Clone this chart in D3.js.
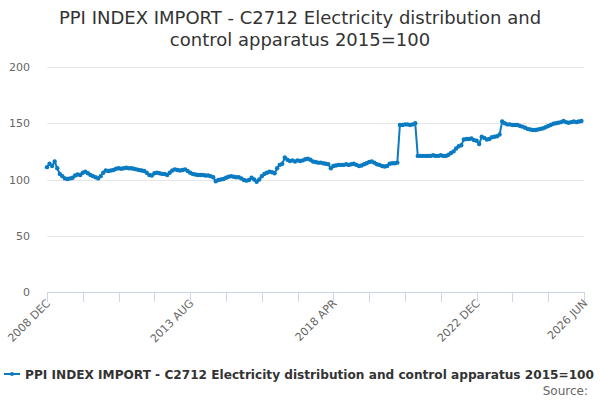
<!DOCTYPE html>
<html><head><meta charset="utf-8">
<script src="https://cdn.jsdelivr.net/npm/d3@7"></script>
<style>body{margin:0;background:#fff}svg{display:block}text{font-family:"DejaVu Sans",sans-serif}</style>
</head><body><svg id="c" width="600" height="400"></svg>
<script>
const title = ["PPI INDEX IMPORT - C2712 Electricity distribution and", "control apparatus 2015=100"];
const seriesName = "PPI INDEX IMPORT - C2712 Electricity distribution and control apparatus 2015=100";
const startYear = 2008, startMonth = 11; // 2008 DEC
const totalMonths = 210; // axis to 2026 JUN
const yTicks = [0, 50, 100, 150, 200];
const xLabelIdx = [0, 56, 112, 168, 210];
const tickEvery = 14;
const values = [
111,114,112,116,110,105,103,101,100.5,101,
101.5,103.5,104.5,104,106,107,105.5,104,103,102,
101,103,106,108,107.5,108,108.5,109.5,110,109.5,
110,110.5,110,110,109.5,109,108.5,108,107.5,106,
104,103.5,105.5,106,105.5,105,105,104,106,108,
109,108.5,108,108.5,109,107.5,106,105,104.5,104,
104,104,103.5,103.5,103,102,98.5,99.5,100,100.5,
101.5,102.5,103,102.5,102,102,101,99.5,99,99.5,
101.5,100,98,100,103,105,106,107,106.5,105.5,
110,113,114,119.5,117.5,116.5,117,116,117,116.5,
117,118,118.5,117.5,116,115.5,115,115,114.5,114,
113.5,110,112,112.5,113,113,113,113.5,113,113.5,
114,113,112,112.5,113.5,114.5,115.5,116,115,113.5,
113,112,111.5,112,114,114.5,114.5,115,148.5,148.5,
149,149,148.5,149,150,121,121,121,121,121,
121,121.5,121,121,121.5,121,121,122,123.5,125,
127.5,129.5,130.5,135.5,136,136,136.5,135,134.5,131.5,
138,137,135.5,136,137.5,138,138.5,140,151.5,150,
149,149,148.5,148.5,148.5,147.5,147,146,145,144.5,
144,144,144.5,145,145.5,146.5,147.5,148.5,149.5,150,
150.5,151,152,151,150.5,151,151.5,151,151.5,152
];
const monthNames = ["JAN","FEB","MAR","APR","MAY","JUN","JUL","AUG","SEP","OCT","NOV","DEC"];
function label(i){const m = startMonth + i; return (startYear + Math.floor(m/12)) + " " + monthNames[m%12];}

const svg = d3.select("#c");
const pl = 47, pr = 584, pt = 67, pb = 292;
const x = d3.scaleLinear().domain([0, totalMonths]).range([pl, pr]);
const y = d3.scaleLinear().domain([0, 200]).range([pb, pt]);
const color = "#0a7bc1";

// title
svg.append("text").attr("x", 300).attr("text-anchor", "middle").attr("fill", "#333").style("font-size", "18px")
  .selectAll("tspan").data(title).join("tspan").attr("x", 300).attr("y", (d,i)=>24 + i*22).text(d=>d);

// grid
svg.append("g").selectAll("line").data(yTicks.filter(d=>d>0)).join("line")
  .attr("x1", pl).attr("x2", pr).attr("y1", d=>Math.round(y(d))+0.5).attr("y2", d=>Math.round(y(d))+0.5)
  .attr("stroke", "#e6e6e6");
svg.append("g").selectAll("text").data(yTicks).join("text")
  .attr("x", 30).attr("y", d=>y(d)+4).attr("text-anchor", "end").attr("fill", "#666").style("font-size", "11px").text(d=>d);

// x axis
const xa = svg.append("g");
xa.append("line").attr("x1", pl).attr("x2", pr).attr("y1", pb+0.5).attr("y2", pb+0.5).attr("stroke", "#ccd6eb");
const ticks = d3.range(0, totalMonths+1, tickEvery);
xa.selectAll("line.t").data(ticks).join("line").attr("class","t")
  .attr("x1", d=>Math.round(x(d))+0.5).attr("x2", d=>Math.round(x(d))+0.5).attr("y1", pb).attr("y2", pb+10).attr("stroke", "#ccd6eb");
xa.selectAll("text").data(xLabelIdx).join("text")
  .attr("transform", d=>`translate(${x(d)+4},${pb+12}) rotate(-45)`)
  .attr("text-anchor", "end").attr("fill", "#666").style("font-size", "11px").text(d=>label(d));

// line
const line = d3.line().x((d,i)=>x(i)).y(d=>y(d));
svg.append("path").datum(values).attr("d", line).attr("fill", "none").attr("stroke", color).attr("stroke-width", 2);
svg.append("g").selectAll("circle").data(values).join("circle")
  .attr("cx", (d,i)=>x(i)).attr("cy", d=>y(d)).attr("r", 2.2).attr("fill", color);

// legend
svg.append("line").attr("x1", 4).attr("x2", 20).attr("y1", 374).attr("y2", 374).attr("stroke", color).attr("stroke-width", 2);
svg.append("circle").attr("cx", 12).attr("cy", 374).attr("r", 2).attr("fill", color);
svg.append("text").attr("x", 25).attr("y", 378.5).attr("fill", "#333").style("font-size", "12px").style("font-weight", "bold")
  .attr("textLength", 569).attr("lengthAdjust", "spacingAndGlyphs").text(seriesName);
svg.append("text").attr("x", 588).attr("y", 395).attr("text-anchor", "end").attr("fill", "#666").style("font-size", "12px").text("Source:");
</script></body></html>
